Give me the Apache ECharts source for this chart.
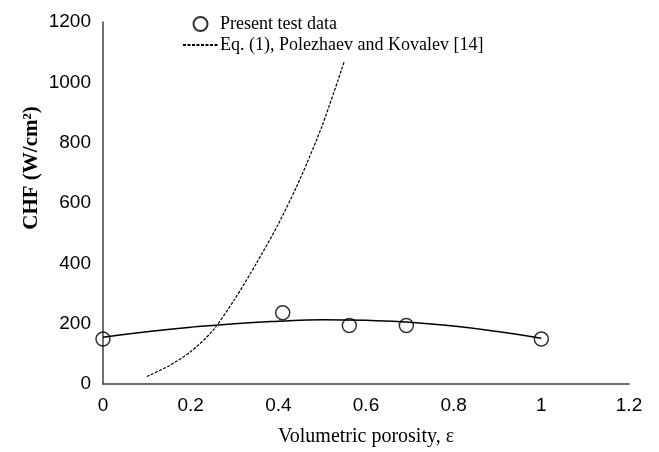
<!DOCTYPE html>
<html>
<head>
<meta charset="utf-8">
<script src="https://cdn.jsdelivr.net/npm/echarts@6/dist/echarts.min.js"></script>
<style>
  html, body { margin: 0; padding: 0; background: #fff; }
  #main { width: 659px; height: 452px; }
</style>
</head>
<body>
<div id="main"></div>
<script>
// measured points
var testPorosity = [0, 0.41, 0.562, 0.692, 1.0];
var testChf = [149, 236, 194, 194, 149];

// trend line through the test data
var fitPorosity = [0, 0.1, 0.2, 0.3, 0.4, 0.5, 0.6, 0.7, 0.8, 0.9, 1.0];
var fitChf = [155, 173, 188, 200, 208, 213, 211, 205, 192, 174, 152];

// Eq. (1), Polezhaev and Kovalev
var eqPorosity = [0.1, 0.15, 0.2, 0.25, 0.3, 0.35, 0.4, 0.45, 0.5, 0.55];
var eqChf = [25, 60, 107, 176, 280, 400, 530, 681, 856, 1067];

var xTicks = [0, 0.2, 0.4, 0.6, 0.8, 1, 1.2];

function pairs(xs, ys) {
    var out = [];
    for (var i = 0; i < xs.length; i++) {
        out.push([xs[i], ys[i]]);
    }
    return out;
}

var serif = '"Liberation Serif", "Times New Roman", serif';
var sans = '"Liberation Sans", Arial, sans-serif';

var option = {
    animation: false,
    backgroundColor: '#fff',
    grid: { left: 103, right: 30, top: 22, bottom: 65 },
    legend: {
        orient: 'vertical',
        left: 177,
        top: 10,
        itemWidth: 35,
        itemHeight: 14,
        itemGap: 3,
        textStyle: { fontFamily: serif, fontSize: 18, color: '#000', padding: [0, 0, 0, -3] },
        data: [
            { name: 'Present test data' },
            { name: 'Eq. (1), Polezhaev and Kovalev [14]', itemStyle: { color: 'rgba(0,0,0,0)', borderWidth: 0 } }
        ]
    },
    xAxis: {
        type: 'value',
        min: 0,
        max: 1.2,
        interval: 0.2,
        name: 'Volumetric porosity, ε',
        nameLocation: 'middle',
        nameGap: 43,
        nameTextStyle: { fontFamily: serif, fontSize: 20, color: '#000' },
        axisLine: { lineStyle: { color: '#404040', width: 1.5 } },
        axisTick: { show: false },
        splitLine: { show: false },
        axisLabel: {
            fontFamily: sans, fontSize: 19, color: '#000', margin: 12,
            formatter: function (v) {
                for (var i = 0; i < xTicks.length; i++) {
                    if (Math.abs(xTicks[i] - v) < 1e-6) return String(xTicks[i]);
                }
                return '';
            }
        }
    },
    yAxis: {
        type: 'value',
        min: 0,
        max: 1200,
        interval: 200,
        axisLine: { show: true, lineStyle: { color: '#404040', width: 1.5 } },
        axisTick: { show: false },
        splitLine: { show: false },
        axisLabel: {
            fontFamily: sans, fontSize: 19, color: '#000', margin: 12,
            formatter: function (v) { return String(v); }
        }
    },
    graphic: [{
        type: 'text',
        x: 32,
        y: 168,
        rotation: Math.PI / 2,
        style: {
            text: 'CHF (W/cm²)',
            font: 'bold 21px ' + serif,
            fill: '#000',
            align: 'center',
            verticalAlign: 'middle'
        }
    }],
    series: [
        {
            name: 'Fit',
            type: 'line',
            data: pairs(fitPorosity, fitChf),
            smooth: true,
            showSymbol: false,
            silent: true,
            lineStyle: { color: '#000', width: 1.5 },
            z: 2
        },
        {
            name: 'Eq. (1), Polezhaev and Kovalev [14]',
            type: 'line',
            data: pairs(eqPorosity, eqChf),
            smooth: 0.25,
            symbol: 'none',
            lineStyle: { color: '#000', width: 1.2, type: [3, 1.5] },
            itemStyle: { color: '#000' },
            z: 2
        },
        {
            name: 'Present test data',
            type: 'scatter',
            data: pairs(testPorosity, testChf),
            symbol: 'circle',
            symbolSize: 14,
            itemStyle: { color: 'rgba(255,255,255,0)', borderColor: '#000', borderWidth: 1.5 },
            z: 3
        }
    ]
};

var myChart = echarts.init(document.getElementById('main'));
myChart.setOption(option);
</script>
</body>
</html>
